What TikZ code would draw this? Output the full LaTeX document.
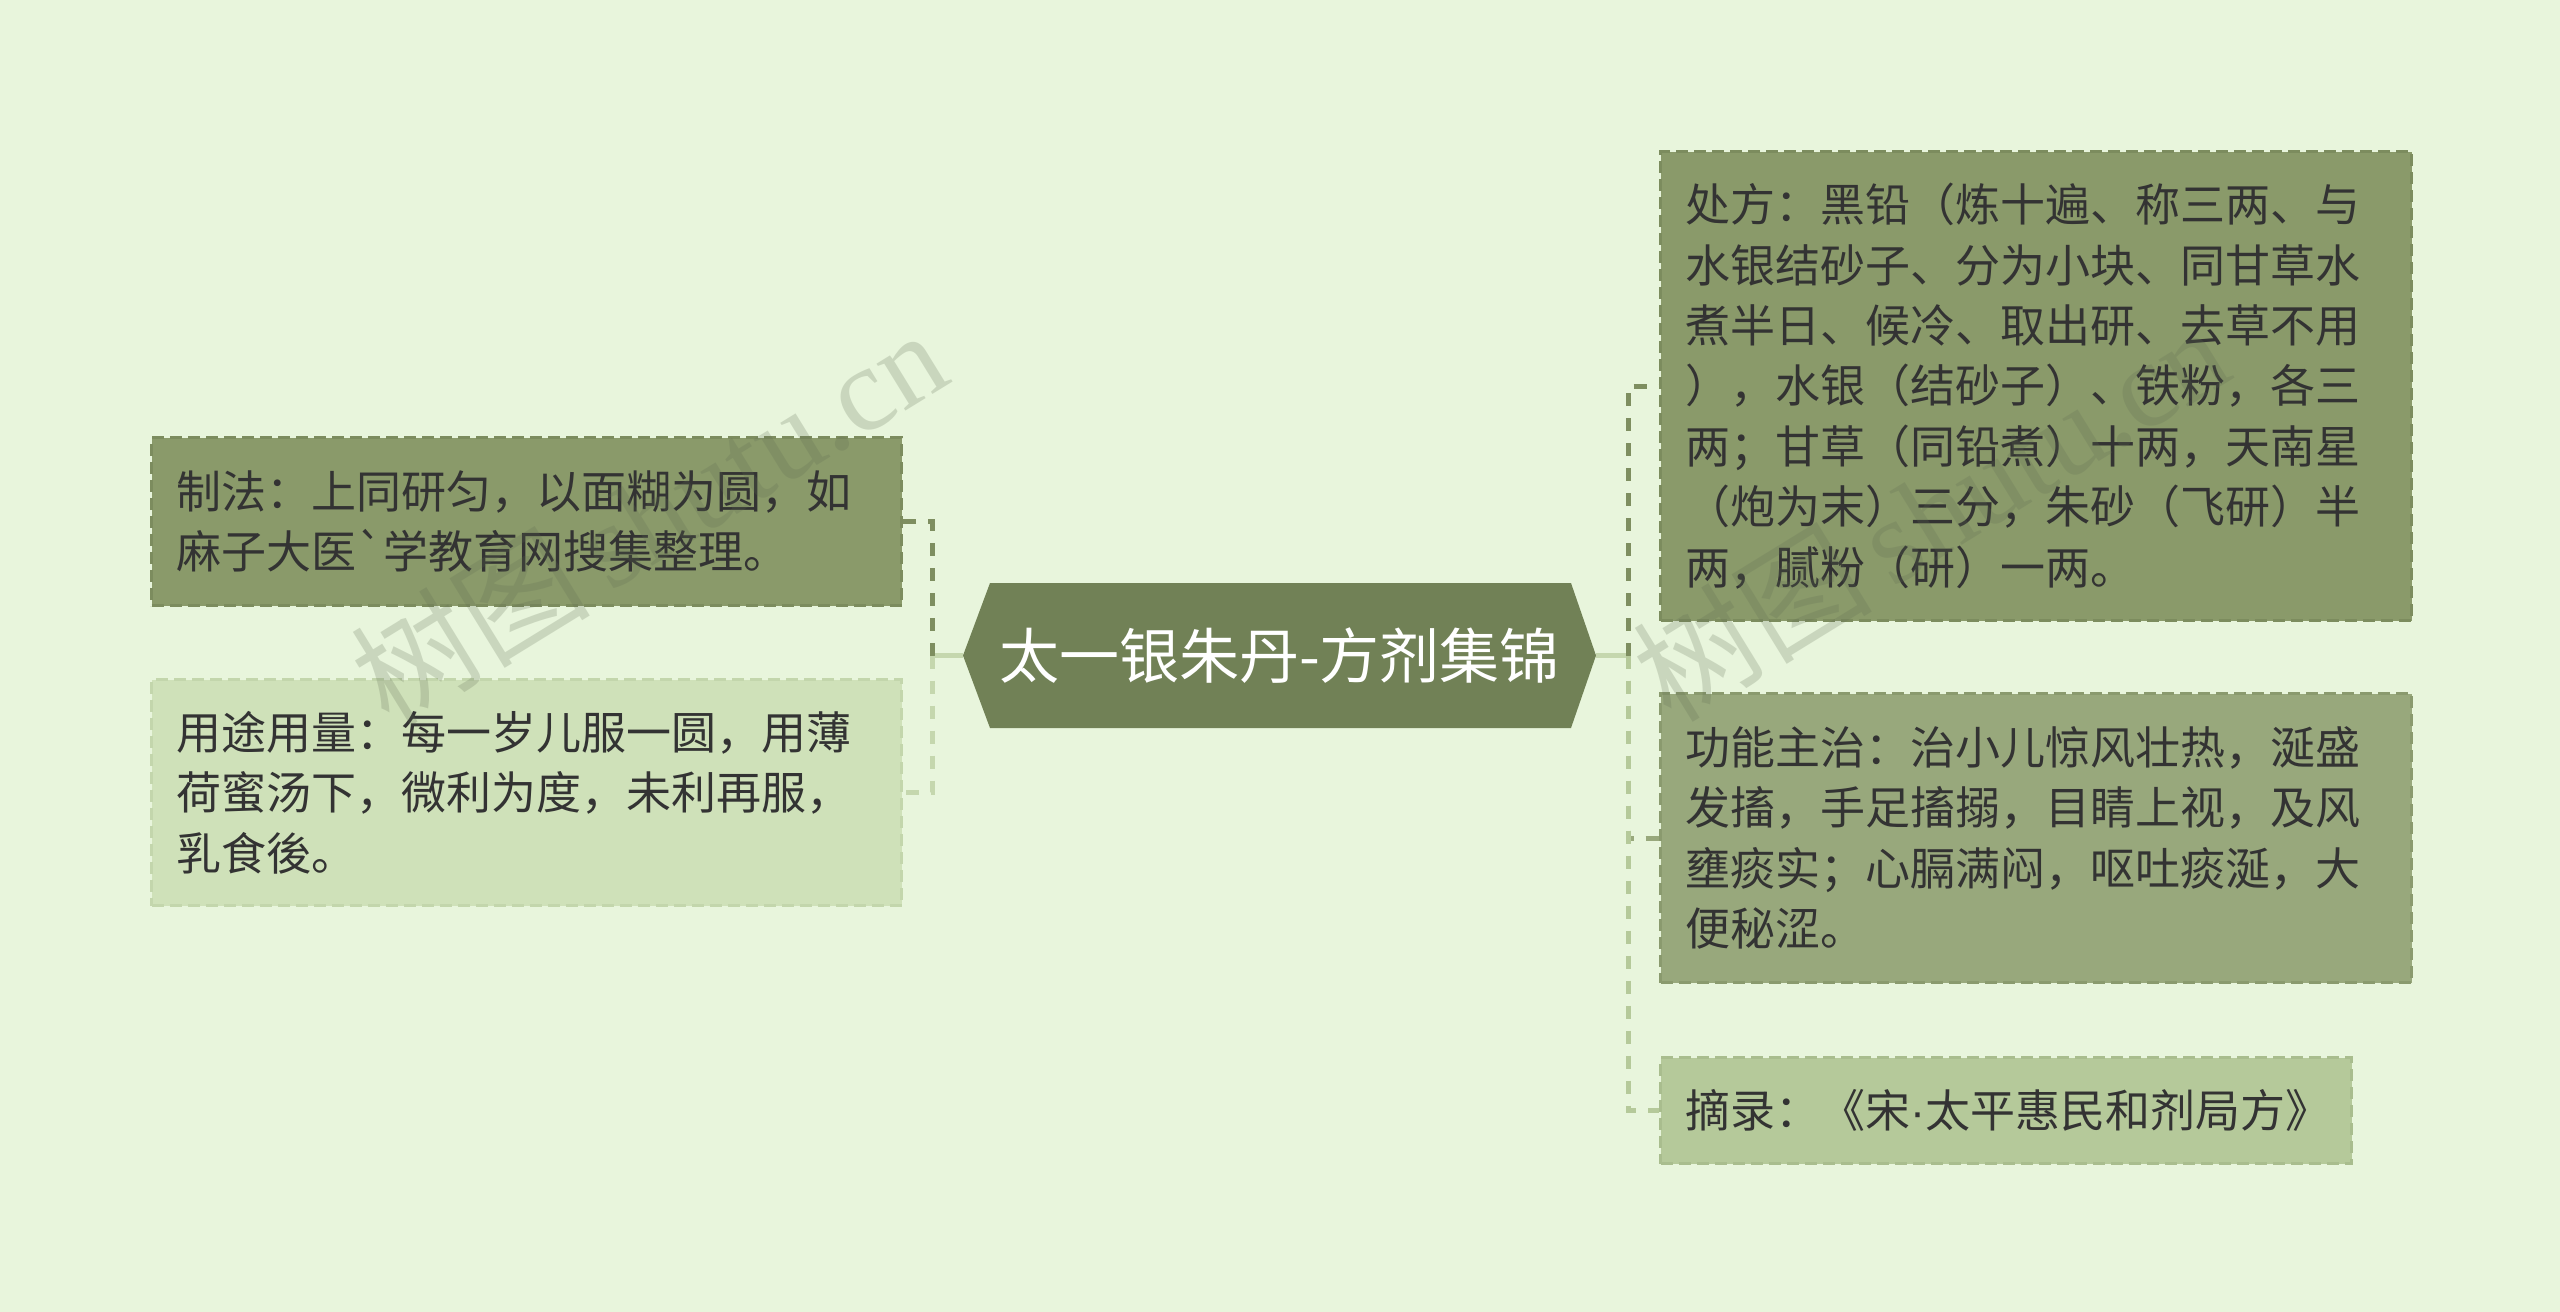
\documentclass[tikz,border=0pt]{standalone}
\usepackage{fontspec}
\setmainfont{Noto Sans CJK SC}[Ligatures=TeXOff]
\newfontfamily\wmfont{Liberation Serif}
\newfontfamily\latinfont{Liberation Sans}
\definecolor{bg}{HTML}{E8F5DC}
\definecolor{hexc}{HTML}{718156}
\definecolor{darkbox}{HTML}{8A9A6A}
\definecolor{darkbd}{HTML}{7C8C5E}
\definecolor{midbox}{HTML}{98A87C}
\definecolor{midbd}{HTML}{8A9A6E}
\definecolor{litebox}{HTML}{CFE1B9}
\definecolor{litebd}{HTML}{C3D6AC}
\definecolor{r3box}{HTML}{B5C99A}
\definecolor{r3bd}{HTML}{A9BD8E}
\definecolor{cdark}{HTML}{7E8E60}
\definecolor{cmid}{HTML}{98A87C}
\definecolor{clite}{HTML}{C5D7AE}
\definecolor{cr3}{HTML}{B5C99A}
\definecolor{txt}{HTML}{333333}
\definecolor{wmc}{HTML}{5E6A52}
\tikzset{
  box/.style={rectangle, anchor=north west, inner xsep=25pt, inner ysep=0pt,
    line width=3pt, dash pattern=on 12pt off 6pt, text=txt, align=left,
    font=\fontsize{45}{60.4}\selectfont},
  conn/.style={line width=5pt, dash pattern=on 13pt off 12pt},
  stub/.style={line width=5pt, draw=clite},
  wm/.style={text=wmc, opacity=0.22, inner sep=0pt}
}
\begin{document}
\begin{tikzpicture}[x=1pt,y=-1pt]
\fill[bg] (0,0) rectangle (2560,1312);
\useasboundingbox (0,0) rectangle (2560,1312);

% central node
\fill[hexc] (963,655.5) -- (990,583) -- (1571,583) -- (1596,655.5) -- (1571,728) -- (990,728) -- cycle;
\node[text=white, font=\fontsize{60}{64}\selectfont, minimum width=633pt, minimum height=145pt, inner sep=0pt] (title) at (1279.5,655.5) {太一银朱丹-方剂集锦};

% child boxes
\node[box, fill=darkbox, draw=darkbd, minimum width=750pt, minimum height=168pt, text width=700pt] (l1) at (150,436)
  {制法：上同研匀，以面糊为圆，如\\麻子大医`学教育网搜集整理。};
\node[box, fill=litebox, draw=litebd, minimum width=750pt, minimum height=226pt, text width=700pt] (l2) at (150,678)
  {用途用量：每一岁儿服一圆，用薄\\荷蜜汤下，微利为度，未利再服，\\乳食後。};
\node[box, fill=darkbox, draw=darkbd, minimum width=751pt, minimum height=469pt, text width=701pt] (r1) at (1659,150)
  {处方：黑铅（炼十遍、称三两、与\\水银结砂子、分为小块、同甘草水\\煮半日、候冷、取出研、去草不用\\），水银（结砂子）、铁粉，各三\\两；甘草（同铅煮）十两，天南星\\（炮为末）三分，朱砂（飞研）半\\两，腻粉（研）一两。};
\node[box, fill=midbox, draw=midbd, minimum width=751pt, minimum height=289pt, text width=701pt] (r2) at (1659,692)
  {功能主治：治小儿惊风壮热，涎盛\\发搐，手足搐搦，目睛上视，及风\\壅痰实；心膈满闷，呕吐痰涎，大\\便秘涩。};
\node[box, fill=r3box, draw=r3bd, minimum width=691pt, minimum height=106pt, text width=641pt] (r3) at (1659,1056)
  {摘录：《宋{\latinfont ·}太平惠民和剂局方》};

% connectors
\coordinate (jl) at (932,655.5);
\coordinate (jr) at (1628,655.5);
\draw[stub] (title.west) -- (jl);
\draw[stub] (title.east) -- (jr);
\draw[conn, draw=cdark] (jl) |- (l1.east);
\draw[conn, draw=clite] (jl) |- (l2.east);
\draw[conn, draw=cdark] (jr) |- (r1.west);
\draw[conn, draw=cmid] (jr) |- (r2.west);
\draw[conn, draw=cr3] (jr) |- (r3.west);

% watermarks
\node[wm, rotate=31.6] (wm1) at (648,516) {\fontsize{120}{120}\selectfont 树图\,{\wmfont shutu.cn}};
\node[wm, rotate=31.6] (wm2) at (1930,512) {\fontsize{120}{120}\selectfont 树图\,{\wmfont shutu.cn}};
\end{tikzpicture}
\end{document}
